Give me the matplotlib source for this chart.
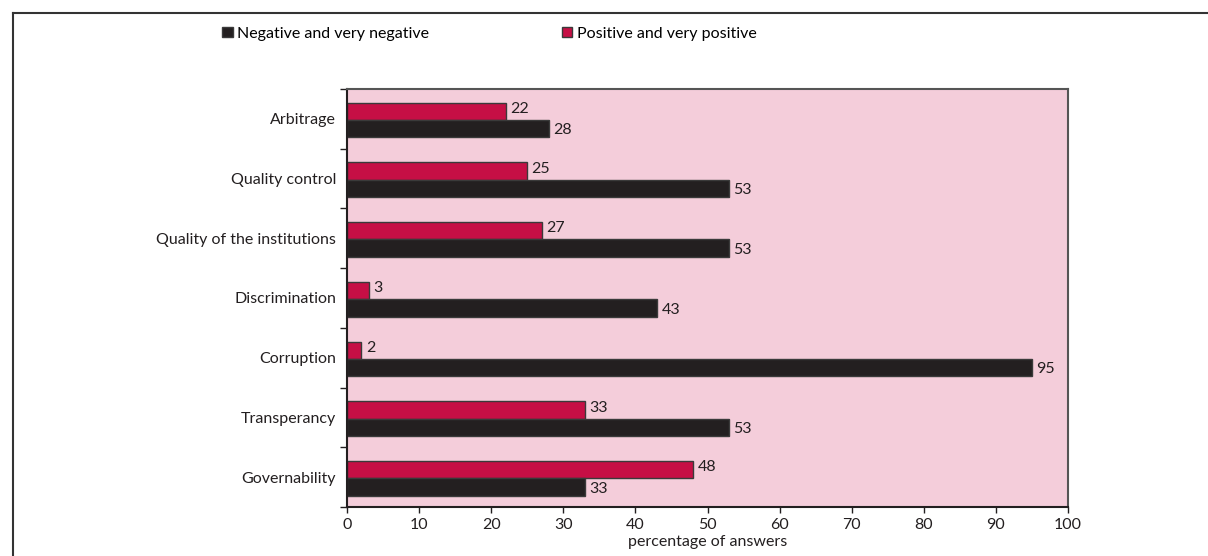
import matplotlib
matplotlib.use("Agg")
import matplotlib.pyplot as plt
from matplotlib.patches import Patch
from matplotlib.lines import Line2D
import numpy as np

plt.rcParams['font.family'] = ['Lato', 'DejaVu Sans']

categories = ["Governability", "Transperancy", "Corruption", "Discrimination",
              "Quality of the institutions", "Quality control", "Arbitrage"]
negative = [33, 53, 95, 43, 53, 53, 28]
positive = [48, 33, 2, 3, 27, 25, 22]

neg_color = "#231F20"
pos_color = "#C60F45"
bg_color = "#F4CDDA"
fs = 11.5

fig = plt.figure(figsize=(12.08, 5.56), dpi=100)
ax = fig.add_axes([0.2873, 0.0881, 0.5968, 0.7519])
ax.set_facecolor(bg_color)

y = np.arange(len(categories)) - 0.02
h = 0.29
ax.barh(y + h / 2, positive, height=h, color=pos_color, edgecolor="#3a3a3a", linewidth=1)
ax.barh(y - h / 2, negative, height=h, color=neg_color, edgecolor="#3a3a3a", linewidth=1)

for i in range(len(categories)):
    ax.text(positive[i] + 0.6, y[i] + h / 2 + 0.04, str(positive[i]),
            va="center", ha="left", fontsize=fs, color="#231F20")
    ax.text(negative[i] + 0.6, y[i] - h / 2 - 0.03, str(negative[i]),
            va="center", ha="left", fontsize=fs, color="#231F20")

ax.set_xlim(0, 100)
ax.set_ylim(-0.5, len(categories) - 0.5)
ax.set_xticks(range(0, 101, 10))
ax.tick_params(axis="x", length=4, width=1, labelsize=fs, colors="#231F20", pad=4)

# separators between categories as major ticks, names as minor ticks
ax.set_yticks(np.arange(-0.5, len(categories), 1))
ax.set_yticklabels([])
ax.tick_params(axis="y", which="major", length=5, width=1, color="#231F20")
ax.set_yticks(np.arange(len(categories)), minor=True)
ax.set_yticklabels(categories, minor=True)
ax.tick_params(axis="y", which="minor", length=0, labelsize=fs, pad=8, labelcolor="#231F20")

for s in ["left", "bottom"]:
    ax.spines[s].set_linewidth(1.5)
    ax.spines[s].set_color("#231F20")
for s in ["top", "right"]:
    ax.spines[s].set_linewidth(1.5)
    ax.spines[s].set_color("#555555")

ax.set_xlabel("percentage of answers", fontsize=fs, color="#231F20", labelpad=2)

handles = [Patch(facecolor=neg_color, edgecolor="#3a3a3a"),
           Patch(facecolor=pos_color, edgecolor="#3a3a3a")]
fig.legend(handles, ["Negative and very negative", "Positive and very positive"],
           loc="upper left", bbox_to_anchor=(0.172, 0.978), ncol=2, frameon=False,
           fontsize=fs, handlelength=0.65, handleheight=0.65, handletextpad=0.3,
           columnspacing=8.3)

# outer frame (top and left edges)
fig.add_artist(Line2D([0.0105, 1.0], [0.976, 0.976], color="#333333", lw=1.5))
fig.add_artist(Line2D([0.0105, 0.0105], [0.0, 0.976], color="#333333", lw=1.5))

fig.savefig("out.png", dpi=100)
